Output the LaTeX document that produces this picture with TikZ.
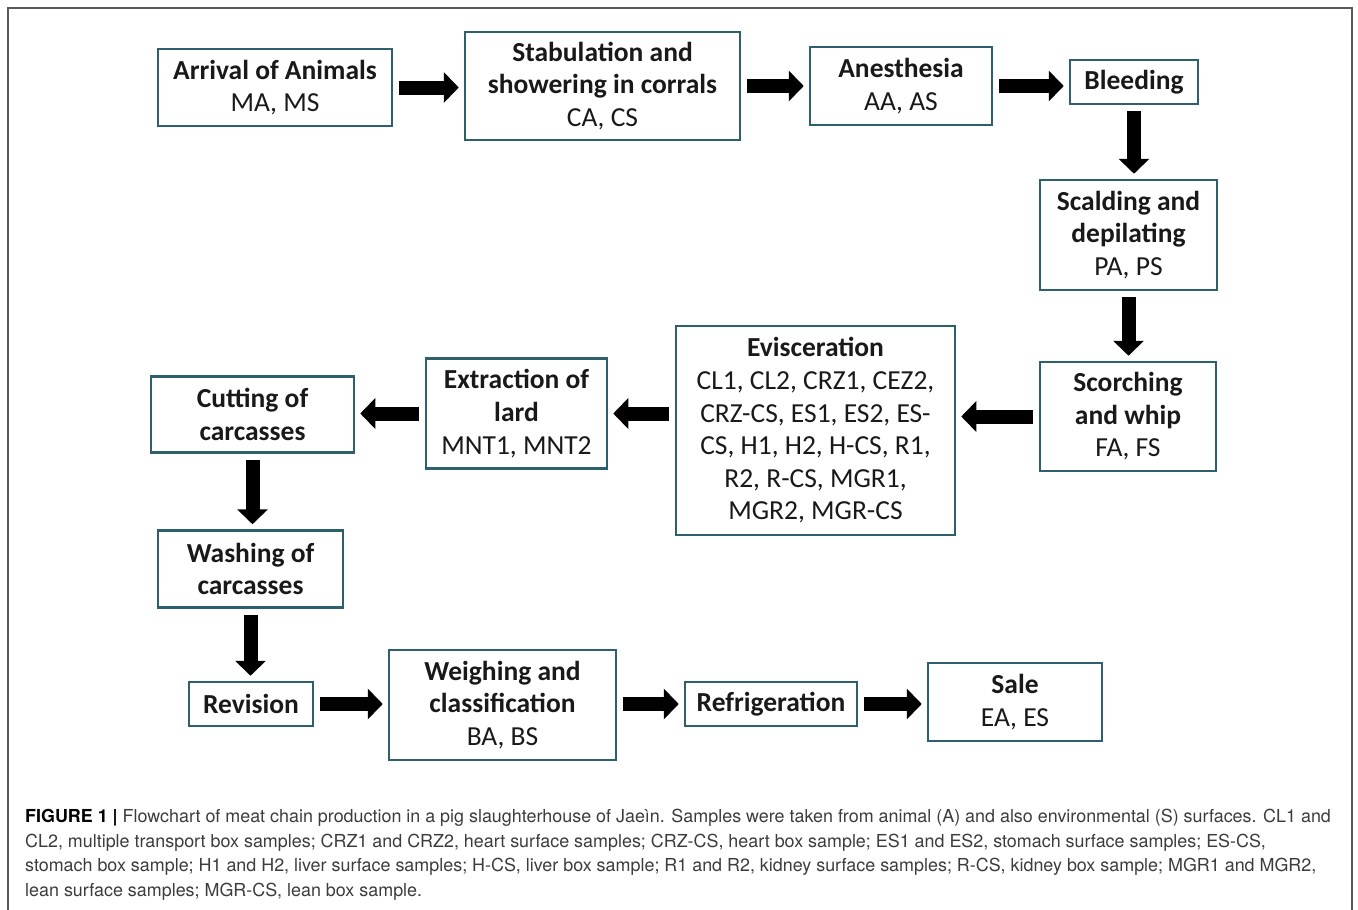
\documentclass[tikz,border=0pt]{standalone}
\usepackage{fontspec}
\setmainfont{Carlito}
\newfontfamily\capfont{TeX Gyre Heros}
\usetikzlibrary{arrows.meta}

\definecolor{boxteal}{RGB}{46,96,108}
\definecolor{framegray}{RGB}{90,90,90}
\definecolor{captext}{RGB}{60,60,60}

\tikzset{
  stepbox/.style={draw=boxteal, line width=2.5pt, align=center, inner sep=0pt,
    text=black!90, font=\fontsize{27.5}{32.6}\selectfont},
  flow/.style={line width=14pt, -{Triangle[width=30pt,length=15pt]},
    shorten <=6pt, shorten >=5pt},
}

\begin{document}
\begin{tikzpicture}[x=1pt,y=-1pt]
    \useasboundingbox (0,0) rectangle (1358,910);
    \draw[framegray, line width=1.5pt] (8,910) -- (8,8) -- (1352,8) -- (1352,910);

    % top row
    \node[stepbox, minimum width=234pt, minimum height=77pt] (arrival) at (275,87.5)
        {\textbf{Arrival of Animals}\\MA, MS};
    \node[stepbox, minimum width=275pt, minimum height=108pt] (stab) at (602.5,86)
        {\textbf{Stabulation and}\\\textbf{showering in corrals}\\CA, CS};
    \node[stepbox, minimum width=182pt, minimum height=78pt] (anest) at (901,86)
        {\textbf{Anesthesia}\\AA, AS};
    \node[stepbox, minimum width=128pt, minimum height=44pt] (bleed) at (1134,82)
        {\textbf{Bleeding}};

    % right column
    \node[stepbox, minimum width=177pt, minimum height=110pt] (scald) at (1128.5,235)
        {\textbf{Scalding and}\\\textbf{depilating}\\PA, PS};
    \node[stepbox, minimum width=176pt, minimum height=109pt] (scorch) at (1128,416.5)
        {\textbf{Scorching}\\\textbf{and whip}\\FA, FS};

    % middle row
    \node[stepbox, minimum width=279pt, minimum height=209pt] (evisc) at (815.5,430.5)
        {\textbf{Evisceration}\\CL1, CL2, CRZ1, CEZ2,\\CRZ-CS, ES1, ES2, ES-\\CS, H1, H2, H-CS, R1,\\R2, R-CS, MGR1,\\MGR2, MGR-CS};
    \node[stepbox, minimum width=181pt, minimum height=110pt] (extract) at (516.5,413.5)
        {\textbf{Extraction of}\\\textbf{lard}\\MNT1, MNT2};
    \node[stepbox, minimum width=203pt, minimum height=76pt] (cutting) at (252.5,414.5)
        {\textbf{Cutting of}\\\textbf{carcasses}};

    % left column and bottom row
    \node[stepbox, minimum width=185pt, minimum height=77pt] (washing) at (250.5,569)
        {\textbf{Washing of}\\\textbf{carcasses}};
    \node[stepbox, minimum width=124pt, minimum height=44pt] (revision) at (251,704)
        {\textbf{Revision}};
    \node[stepbox, minimum width=227pt, minimum height=110pt] (weigh) at (502.5,705)
        {\textbf{Weighing and}\\\textbf{classification}\\BA, BS};
    \node[stepbox, minimum width=172pt, minimum height=44pt] (refrig) at (771,704)
        {\textbf{Refrigeration}};
    \node[stepbox, minimum width=174pt, minimum height=78pt] (sale) at (1015,702)
        {\textbf{Sale}\\EA, ES};

    % arrows
    \draw[flow] (arrival.east) -- (arrival.east -| stab.west);
    \draw[flow] (stab.east) -- (stab.east -| anest.west);
    \draw[flow] (anest.east) -- (anest.east -| bleed.west);
    \draw[flow] (bleed.south) -- (bleed.south |- scald.north);
    \draw[flow] (scald.south) -- (scald.south |- scorch.north);
    \draw[flow] (scorch.west) -- (scorch.west -| evisc.east);
    \draw[flow] (evisc.west |- extract.east) -- (extract.east);
    \draw[flow] (extract.west) -- (extract.west -| cutting.east);
    \draw[flow] (cutting.south) -- (cutting.south |- washing.north);
    \draw[flow] (washing.south) -- (washing.south |- revision.north);
    \draw[flow] (revision.east) -- (revision.east -| weigh.west);
    \draw[flow] (weigh.east |- refrig.west) -- (refrig.west);
    \draw[flow] (refrig.east) -- (refrig.east -| sale.west);

    % caption
    \node[anchor=north west, align=left, inner sep=0pt, text=captext,
          font=\capfont\fontsize{17.9}{24.7}\selectfont] (caption) at (25,809)
        {\textcolor{black}{\textbf{FIGURE 1 |}} Flowchart of meat chain production in a pig slaughterhouse of Jaeìn. Samples were taken from animal (A) and also environmental (S) surfaces. CL1 and\\
         CL2, multiple transport box samples; CRZ1 and CRZ2, heart surface samples; CRZ-CS, heart box sample; ES1 and ES2, stomach surface samples; ES-CS,\\
         stomach box sample; H1 and H2, liver surface samples; H-CS, liver box sample; R1 and R2, kidney surface samples; R-CS, kidney box sample; MGR1 and MGR2,\\
         lean surface samples; MGR-CS, lean box sample.};
\end{tikzpicture}
\end{document}
